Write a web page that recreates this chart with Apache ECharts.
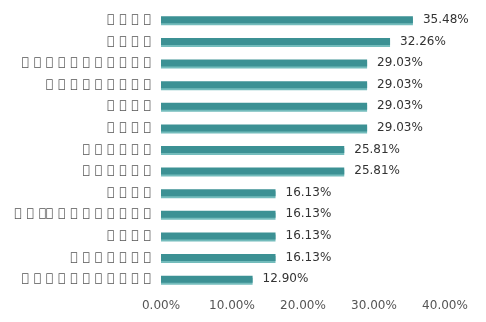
<!DOCTYPE html>
<html>
<head>
<meta charset="utf-8">
<script src="https://cdn.jsdelivr.net/npm/echarts@6/dist/echarts.min.js"></script>
<style>html,body{margin:0;padding:0;background:#fff}#c{width:486px;height:322px}</style>
</head>
<body>
<div id="c"></div>
<script>
// Category labels render as missing-glyph boxes in the reference; placeholders keep the box count.
const B = '\uE000';
const S = ' \u200A';
function boxes(n){ return Array(n).fill(B).join(S); }
const categories = [boxes(4), boxes(4), boxes(11), boxes(9), boxes(4), boxes(4), boxes(6), boxes(6), boxes(4),
  boxes(2) + S + B + B + S + boxes(8), boxes(4), boxes(7), boxes(11)];
const values = [35.48, 32.26, 29.03, 29.03, 29.03, 29.03, 25.81, 25.81, 16.13, 16.13, 16.13, 16.13, 12.90];
const xMin = 0, xMax = 40, xInterval = 10;

const chart = echarts.init(document.getElementById('c'), null, {renderer: 'canvas'});
chart.setOption({
  animation: false,
  grid: {left: 161, right: 41, top: 9, bottom: 32, containLabel: false},
  xAxis: {
    type: 'value', min: xMin, max: xMax, interval: xInterval,
    axisLine: {show: false}, axisTick: {show: false}, splitLine: {show: false},
    axisLabel: {color: '#555', fontSize: 12, fontFamily: 'DejaVu Sans', margin: 10,
      formatter: v => v.toFixed(2) + '%'}
  },
  yAxis: {
    type: 'category', data: categories, inverse: true,
    axisLine: {show: false}, axisTick: {show: false}, splitLine: {show: false},
    axisLabel: {color: '#555', fontSize: 12, fontFamily: 'DejaVu Sans', margin: 10}
  },
  series: [{
    type: 'bar', data: values, barWidth: 7,
    itemStyle: {color: '#3c9194', shadowColor: '#74bcbc', shadowOffsetY: 2, shadowBlur: 0},
    label: {show: true, position: 'right', distance: 10, color: '#333', fontSize: 12,
      fontFamily: 'DejaVu Sans', formatter: p => p.value.toFixed(2) + '%'}
  }]
});
</script>
</body>
</html>
